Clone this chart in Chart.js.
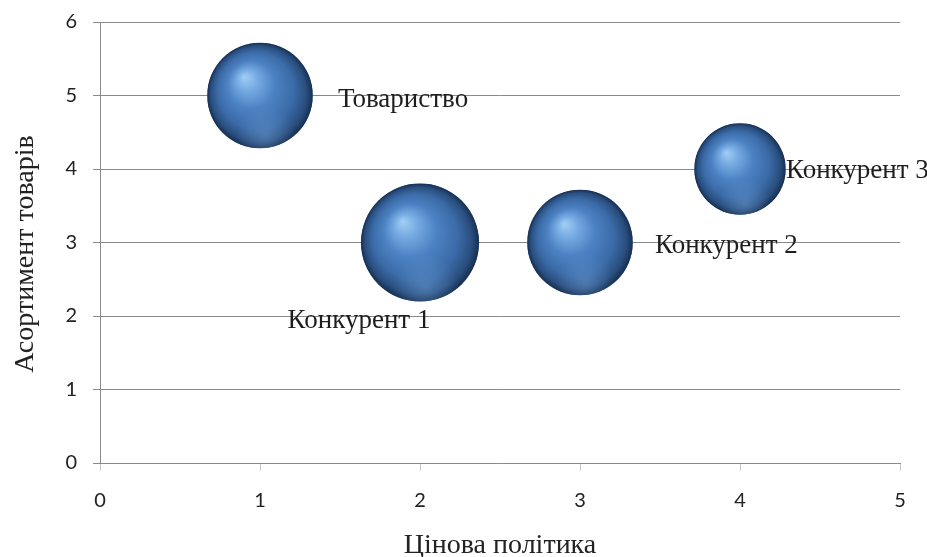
<!DOCTYPE html>
<html>
<head>
<meta charset="utf-8">
<script src="https://cdn.jsdelivr.net/npm/chart.js@4/dist/chart.umd.min.js"></script>
<style>
  html, body { margin: 0; padding: 0; background: #ffffff; }
  #wrap { width: 927px; height: 557px; }
</style>
</head>
<body>
<div id="wrap"><canvas id="chart" width="927" height="557"></canvas></div>
<script>
// Company positioning: price policy vs. assortment, bubble area = relative size
const companies   = ['Товариство', 'Конкурент 1', 'Конкурент 2', 'Конкурент 3'];
const pricePolicy = [1, 2, 3, 4];
const assortment  = [5, 3, 3, 4];
const bubbleSize  = [4, 5, 4, 3];
const xTicks = [0, 1, 2, 3, 4, 5];
const yTicks = [0, 1, 2, 3, 4, 5, 6];
const xTitle = 'Цінова політика';
const yTitle = 'Асортимент товарів';

const MAX_RADIUS = 59;
const maxSize = Math.max(...bubbleSize);

// where each data label's baseline sits relative to its bubble centre (px)
const labelOffset = [
  { dx: 78,  dy: 11, align: 'left'   },
  { dx: -61, dy: 85, align: 'center' },
  { dx: 75,  dy: 10, align: 'left'   },
  { dx: 46,  dy: 9,  align: 'left'   }
];

const points = companies.map((name, i) => ({
  x: pricePolicy[i],
  y: assortment[i],
  r: MAX_RADIUS * Math.sqrt(bubbleSize[i] / maxSize)
}));

const SERIF = '"Liberation Serif", "Times New Roman", serif';

// shaded sphere painted over each bubble element
const sphereShade = {
  id: 'sphereShade',
  afterDatasetsDraw(chart) {
    const c = chart.ctx;
    chart.getDatasetMeta(0).data.forEach(el => {
      const r = el.options.radius;
      const cx = el.x, cy = el.y;
      if (!isFinite(cx) || !isFinite(cy) || !(r > 0)) return;
      c.save();
      c.beginPath();
      c.arc(cx, cy, r, 0, Math.PI * 2);
      c.clip();
      const g = c.createRadialGradient(cx - 0.3 * r, cy - 0.36 * r, 0, cx, cy, r);
      g.addColorStop(0.00, '#a4cff5');
      g.addColorStop(0.20, '#75aae2');
      g.addColorStop(0.45, '#4c82c3');
      g.addColorStop(0.72, '#3b6ba8');
      g.addColorStop(0.90, '#2a4f80');
      g.addColorStop(1.00, '#172f50');
      c.fillStyle = g;
      c.fillRect(cx - r, cy - r, 2 * r, 2 * r);
      // soft reflected light near the lower rim
      const b = c.createRadialGradient(cx + 0.1 * r, cy + 0.75 * r, 0, cx + 0.1 * r, cy + 0.75 * r, 0.55 * r);
      b.addColorStop(0, 'rgba(120,170,225,0.4)');
      b.addColorStop(1, 'rgba(120,170,225,0)');
      c.fillStyle = b;
      c.fillRect(cx - r, cy - r, 2 * r, 2 * r);
      c.restore();
    });
  }
};

// company names next to bubbles, plus the vertical axis title
const textLayer = {
  id: 'textLayer',
  afterDatasetsDraw(chart) {
    const c = chart.ctx;
    c.save();
    c.font = '27px ' + SERIF;
    c.fillStyle = '#1e1e1e';
    c.textBaseline = 'alphabetic';
    chart.getDatasetMeta(0).data.forEach((el, i) => {
      const o = labelOffset[i];
      c.textAlign = o.align;
      c.fillText(companies[i], el.x + o.dx, el.y + o.dy);
    });
    c.restore();

    c.save();
    c.font = '28px ' + SERIF;
    c.fillStyle = '#222';
    c.textAlign = 'center';
    c.textBaseline = 'middle';
    c.translate(26, 254);
    c.rotate(-Math.PI / 2);
    c.fillText(yTitle, 0, 0);
    c.restore();
  }
};

new Chart(document.getElementById('chart'), {
  type: 'bubble',
  data: {
    datasets: [{
      data: points,
      backgroundColor: '#3d6dab',
      borderWidth: 0,
      hoverBorderWidth: 0
    }]
  },
  options: {
    responsive: false,
    animation: false,
    events: [],
    clip: false,
    layout: { autoPadding: false, padding: { top: 22, right: 27, left: 0, bottom: 0 } },
    plugins: {
      legend: { display: false },
      tooltip: { enabled: false }
    },
    scales: {
      x: {
        type: 'linear',
        min: 0, max: 5,
        afterBuildTicks: s => { s.ticks = xTicks.map(v => ({ value: v })); },
        afterFit: s => { s.height = 94; s.paddingLeft = 0; s.paddingRight = 0; },
        grid: { drawOnChartArea: false, drawTicks: true, tickLength: 8, color: '#c8c8c8' },
        border: { display: true, color: '#8a8a8a', width: 1 },
        ticks: { font: { family: 'Lato', size: 20 }, color: '#222', padding: 18 },
        title: {
          display: true,
          text: xTitle,
          font: { family: SERIF, size: 28, lineHeight: 0.8 },
          color: '#222',
          padding: { top: 0, bottom: 0 }
        }
      },
      y: {
        type: 'linear',
        min: 0, max: 6,
        afterBuildTicks: s => { s.ticks = yTicks.map(v => ({ value: v })); },
        afterFit: s => { s.width = 100; s.paddingTop = 0; s.paddingBottom = 0; },
        grid: { color: '#8a8a8a', lineWidth: 1, drawTicks: true, tickLength: 7 },
        border: { display: true, color: '#8a8a8a', width: 1 },
        ticks: { font: { family: 'Lato', size: 20 }, color: '#222', padding: 16 },
        title: { display: false }
      }
    }
  },
  plugins: [sphereShade, textLayer]
});
</script>
</body>
</html>
